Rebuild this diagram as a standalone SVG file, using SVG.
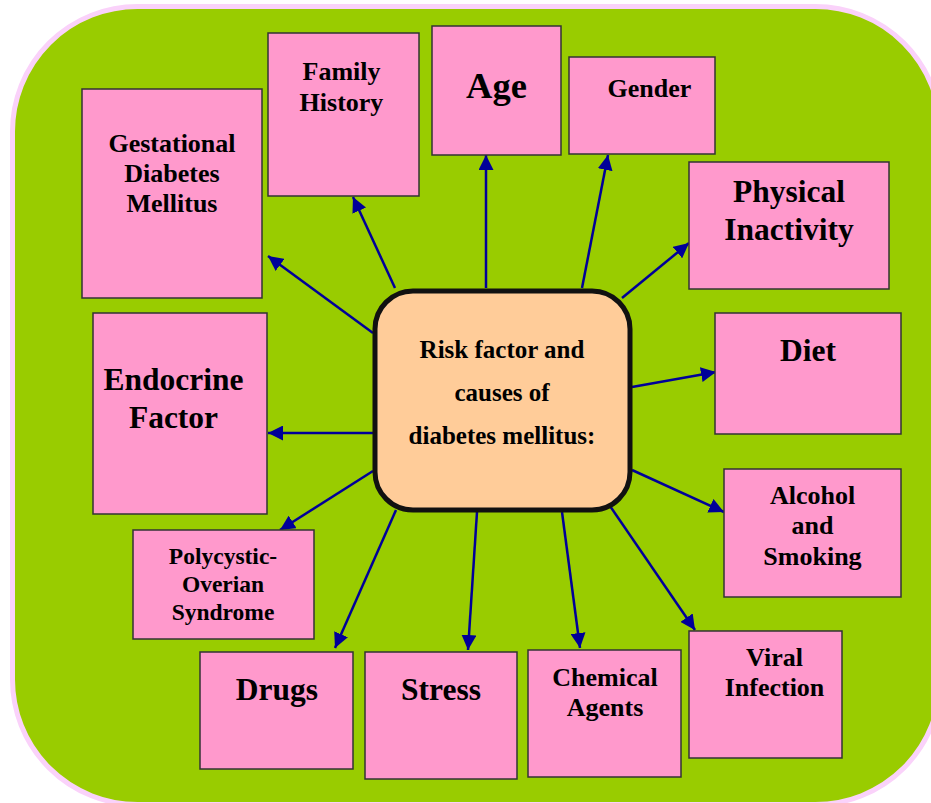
<svg xmlns="http://www.w3.org/2000/svg" width="931" height="803" viewBox="0 0 931 803">
<defs>
<marker id="arr" viewBox="0 0 10 10" refX="10" refY="5" markerWidth="15" markerHeight="15" markerUnits="userSpaceOnUse" orient="auto">
<path d="M0,0 L10,5 L0,10 z" fill="#000099"/>
</marker>
</defs>
<style>
.bg{fill:#99cc00;stroke:#fad2fa;stroke-width:5}
.n{fill:#ff99cc;stroke:#333333;stroke-width:1.5}
.c{fill:#ffcc99;stroke:#111111;stroke-width:5}
text{font-family:"Liberation Serif","Times New Roman",serif;font-weight:bold;fill:#000;text-anchor:middle}
.e line{stroke:#000099;stroke-width:2.5;marker-end:url(#arr)}
</style>
<rect class="bg" x="12.5" y="6.5" width="928" height="798" rx="125" ry="125"/>
<g id="edges" class="e">
<line x1="373" y1="333" x2="268" y2="256"/>
<line x1="395" y1="288" x2="353" y2="197"/>
<line x1="486" y1="288" x2="486" y2="155"/>
<line x1="582" y1="288" x2="608" y2="155"/>
<line x1="622" y1="298" x2="689" y2="243"/>
<line x1="373" y1="433" x2="268" y2="433"/>
<line x1="632" y1="387" x2="716" y2="372"/>
<line x1="632" y1="470" x2="724" y2="512"/>
<line x1="373" y1="471" x2="280" y2="530"/>
<line x1="396" y1="510" x2="335" y2="648"/>
<line x1="477" y1="512" x2="468" y2="650"/>
<line x1="562" y1="512" x2="580" y2="648"/>
<line x1="610" y1="506" x2="695" y2="630"/>
</g>
<g id="center">
<rect class="c" x="375" y="291" width="255" height="219" rx="38" ry="38"/>
<text x="502" y="358" font-size="25">Risk factor and</text>
<text x="502" y="401" font-size="25">causes of</text>
<text x="502" y="444" font-size="25">diabetes mellitus:</text>
</g>
<g id="gestational">
<rect class="n" x="82" y="89" width="180" height="209"/>
<text x="172" y="152" font-size="26">Gestational</text>
<text x="172" y="182" font-size="26">Diabetes</text>
<text x="172" y="212" font-size="26">Mellitus</text>
</g>
<g id="family">
<rect class="n" x="268" y="33" width="151" height="163"/>
<text x="341.5" y="80" font-size="26">Family</text>
<text x="341.5" y="111" font-size="26">History</text>
</g>
<g id="age">
<rect class="n" x="432" y="26" width="129" height="129"/>
<text x="496.5" y="98" font-size="36.5">Age</text>
</g>
<g id="gender">
<rect class="n" x="569" y="57" width="146" height="97"/>
<text x="649.5" y="97" font-size="26">Gender</text>
</g>
<g id="physical">
<rect class="n" x="689" y="162" width="200" height="127"/>
<text x="789" y="202" font-size="31.5">Physical</text>
<text x="789" y="240" font-size="31.5">Inactivity</text>
</g>
<g id="endocrine">
<rect class="n" x="93" y="313" width="174" height="201"/>
<text x="173.5" y="390" font-size="31.5">Endocrine</text>
<text x="173.5" y="428" font-size="31.5">Factor</text>
</g>
<g id="diet">
<rect class="n" x="715" y="313" width="186" height="121"/>
<text x="808" y="361" font-size="31.5">Diet</text>
</g>
<g id="alcohol">
<rect class="n" x="724" y="469" width="177" height="128"/>
<text x="812.5" y="504" font-size="26">Alcohol</text>
<text x="812.5" y="534" font-size="26">and</text>
<text x="812.5" y="565" font-size="26">Smoking</text>
</g>
<g id="polycystic">
<rect class="n" x="133" y="530" width="181" height="109"/>
<text x="223" y="564" font-size="23.5">Polycystic-</text>
<text x="223" y="592" font-size="23.5">Overian</text>
<text x="223" y="620" font-size="23.5">Syndrome</text>
</g>
<g id="drugs">
<rect class="n" x="200" y="652" width="153" height="117"/>
<text x="277" y="700" font-size="31.5">Drugs</text>
</g>
<g id="stress">
<rect class="n" x="365" y="652" width="152" height="127"/>
<text x="441" y="700" font-size="31.5">Stress</text>
</g>
<g id="chemical">
<rect class="n" x="528" y="650" width="153" height="127"/>
<text x="605" y="686" font-size="26">Chemical</text>
<text x="605" y="716" font-size="26">Agents</text>
</g>
<g id="viral">
<rect class="n" x="689" y="631" width="153" height="127"/>
<text x="774.5" y="666" font-size="26">Viral</text>
<text x="774.5" y="696" font-size="26">Infection</text>
</g>
</svg>
